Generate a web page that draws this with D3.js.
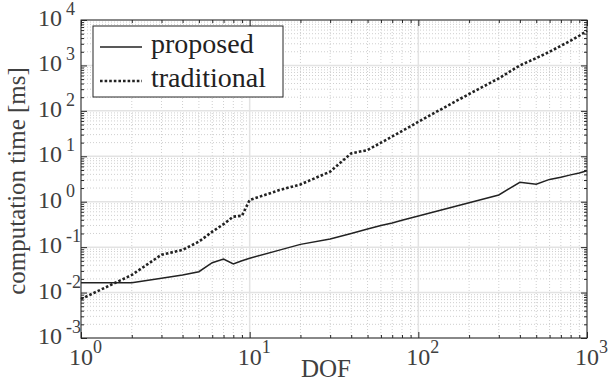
<!DOCTYPE html>
<html>
<head>
<meta charset="utf-8">
<script src="https://cdn.jsdelivr.net/npm/d3@7"></script>
<style>
  body { margin: 0; background: #fff; }
  svg { display: block; }
</style>
</head>
<body>
<div id="chart"></div>
<script>
// data
var dof = [1, 2, 3, 4, 5, 6, 7, 8, 9, 10, 15, 20, 30, 40, 50, 60, 70, 80, 90, 100,
           200, 300, 400, 500, 600, 700, 800, 900, 1000];
var proposed = [0.0165, 0.0165, 0.0206, 0.0244, 0.0288, 0.0455, 0.0548, 0.0425, 0.050, 0.057, 0.086, 0.115, 0.151, 0.20, 0.25, 0.30, 0.34, 0.39, 0.44, 0.484,
                0.95, 1.41, 2.67, 2.42, 3.1, 3.44, 3.9, 4.3, 4.8];
var traditional = [0.0072, 0.0244, 0.068, 0.087, 0.132, 0.219, 0.32, 0.47, 0.49, 1.09, 1.8, 2.4, 4.6, 11.6, 13.7, 19.9, 27.3, 36, 45.6, 57.7,
                   235, 520, 1000, 1450, 2000, 2700, 3500, 4500, 5800];
var xTicks = [1, 10, 100, 1000];
var xExp = ["0", "1", "2", "3"];
var yTicks = [1e-3, 1e-2, 1e-1, 1, 10, 100, 1000, 10000];
var yExp = ["-3", "-2", "-1", "0", "1", "2", "3", "4"];
var seriesNames = ["proposed", "traditional"];

var W = 608, H = 386;
var margin = {top: 20, left: 81, right: 21, bottom: 48};
var width = W - margin.left - margin.right;
var height = H - margin.top - margin.bottom;
var serif = "'Liberation Serif', 'Times New Roman', serif";

var svg = d3.select("#chart").append("svg")
  .attr("width", W)
  .attr("height", H)
  .attr("font-family", serif);

var g = svg.append("g")
  .attr("transform", "translate(" + margin.left + "," + margin.top + ")");

var x = d3.scaleLog().domain([1, 1000]).range([0, width]);
var y = d3.scaleLog().domain([1e-3, 1e4]).range([height, 0]);

// minor values 2..9 per decade
function minors(lo, hi) {
  var out = [];
  for (var e = lo; e < hi; e++) {
    for (var k = 2; k <= 9; k++) out.push(k * Math.pow(10, e));
  }
  return out;
}
var xMinor = minors(0, 3);
var yMinor = minors(-3, 4);

// grid
g.append("g").selectAll("line").data(xMinor).enter().append("line")
  .attr("x1", function(d){ return x(d); }).attr("x2", function(d){ return x(d); })
  .attr("y1", 0).attr("y2", height)
  .attr("stroke", "#cfcfcf").attr("stroke-width", 1).attr("stroke-dasharray", "1,2");
g.append("g").selectAll("line").data(yMinor).enter().append("line")
  .attr("y1", function(d){ return y(d); }).attr("y2", function(d){ return y(d); })
  .attr("x1", 0).attr("x2", width)
  .attr("stroke", "#cfcfcf").attr("stroke-width", 1).attr("stroke-dasharray", "1,2");
g.append("g").selectAll("line").data(xTicks).enter().append("line")
  .attr("x1", function(d){ return x(d); }).attr("x2", function(d){ return x(d); })
  .attr("y1", 0).attr("y2", height)
  .attr("stroke", "#e3e3e3").attr("stroke-width", 1.5);
g.append("g").selectAll("line").data(yTicks).enter().append("line")
  .attr("y1", function(d){ return y(d); }).attr("y2", function(d){ return y(d); })
  .attr("x1", 0).attr("x2", width)
  .attr("stroke", "#e3e3e3").attr("stroke-width", 1.5);

// lines
var line = d3.line()
  .x(function(d){ return x(d[0]); })
  .y(function(d){ return y(d[1]); });

g.append("path")
  .datum(d3.zip(dof, proposed))
  .attr("d", line)
  .attr("fill", "none")
  .attr("stroke", "#222")
  .attr("stroke-width", 1.5);

g.append("path")
  .datum(d3.zip(dof, traditional))
  .attr("d", line)
  .attr("fill", "none")
  .attr("stroke", "#222")
  .attr("stroke-width", 2.6)
  .attr("stroke-dasharray", "2.6,2");

// axes with inward ticks
var axisColor = "#262626";
function styleAxis(sel) {
  sel.select(".domain").remove();
  sel.selectAll("line").attr("stroke", axisColor);
  sel.selectAll("text").remove();
}
g.append("g").attr("transform", "translate(0," + height + ")")
  .call(d3.axisBottom(x).tickValues(xTicks).tickSizeInner(-6).tickSizeOuter(0)).call(styleAxis);
g.append("g").attr("transform", "translate(0," + height + ")")
  .call(d3.axisBottom(x).tickValues(xMinor).tickSizeInner(-3).tickSizeOuter(0)).call(styleAxis);
g.append("g")
  .call(d3.axisTop(x).tickValues(xTicks).tickSizeInner(-6).tickSizeOuter(0)).call(styleAxis);
g.append("g")
  .call(d3.axisTop(x).tickValues(xMinor).tickSizeInner(-3).tickSizeOuter(0)).call(styleAxis);
g.append("g")
  .call(d3.axisLeft(y).tickValues(yTicks).tickSizeInner(-6).tickSizeOuter(0)).call(styleAxis);
g.append("g")
  .call(d3.axisLeft(y).tickValues(yMinor).tickSizeInner(-3).tickSizeOuter(0)).call(styleAxis);
g.append("g").attr("transform", "translate(" + width + ",0)")
  .call(d3.axisRight(y).tickValues(yTicks).tickSizeInner(-6).tickSizeOuter(0)).call(styleAxis);
g.append("g").attr("transform", "translate(" + width + ",0)")
  .call(d3.axisRight(y).tickValues(yMinor).tickSizeInner(-3).tickSizeOuter(0)).call(styleAxis);

g.append("rect")
  .attr("x", 0).attr("y", 0).attr("width", width).attr("height", height)
  .attr("fill", "none").attr("stroke", axisColor).attr("stroke-width", 1);

// tick labels
var labColor = "#404040";
xTicks.forEach(function(d, i){
  g.append("text")
    .attr("x", x(d)).attr("y", height + 27)
    .attr("text-anchor", "middle")
    .attr("font-size", 24).attr("fill", labColor)
    .text("10");
  g.append("text")
    .attr("x", x(d) + 12).attr("y", height + 15)
    .attr("font-size", 18).attr("fill", labColor)
    .text(xExp[i]);
});
yTicks.forEach(function(d, i){
  g.append("text")
    .attr("x", -19).attr("y", y(d) + 6)
    .attr("text-anchor", "end")
    .attr("font-size", 24).attr("fill", labColor)
    .text("10");
  g.append("text")
    .attr("x", -15).attr("y", y(d) - 5)
    .attr("font-size", 18).attr("fill", labColor)
    .text(yExp[i]);
});

// axis titles
g.append("text")
  .attr("x", width / 2 - 8).attr("y", height + 39)
  .attr("text-anchor", "middle")
  .attr("font-size", 25).attr("fill", labColor)
  .text("DOF");

g.append("text")
  .attr("transform", "translate(" + (-56) + "," + (height / 2 + 2) + ")rotate(-90)")
  .attr("text-anchor", "middle")
  .attr("font-size", 25).attr("fill", labColor)
  .text("computation time [ms]");

// legend
var leg = g.append("g").attr("transform", "translate(12,6)");
leg.append("rect")
  .attr("x", 0).attr("y", 0).attr("width", 190).attr("height", 71)
  .attr("fill", "#fff").attr("stroke", axisColor).attr("stroke-width", 1);
var dashes = [null, "2.6,2"];
var widths = [1.5, 2.6];
seriesNames.forEach(function(name, i){
  var yy = 21 + i * 34;
  leg.append("line")
    .attr("x1", 7).attr("x2", 49).attr("y1", yy).attr("y2", yy)
    .attr("stroke", "#222").attr("stroke-width", widths[i])
    .attr("stroke-dasharray", dashes[i]);
  leg.append("text")
    .attr("x", 58).attr("y", yy + 6)
    .attr("font-size", 28).attr("fill", "#222")
    .text(name);
});
</script>
</body>
</html>
